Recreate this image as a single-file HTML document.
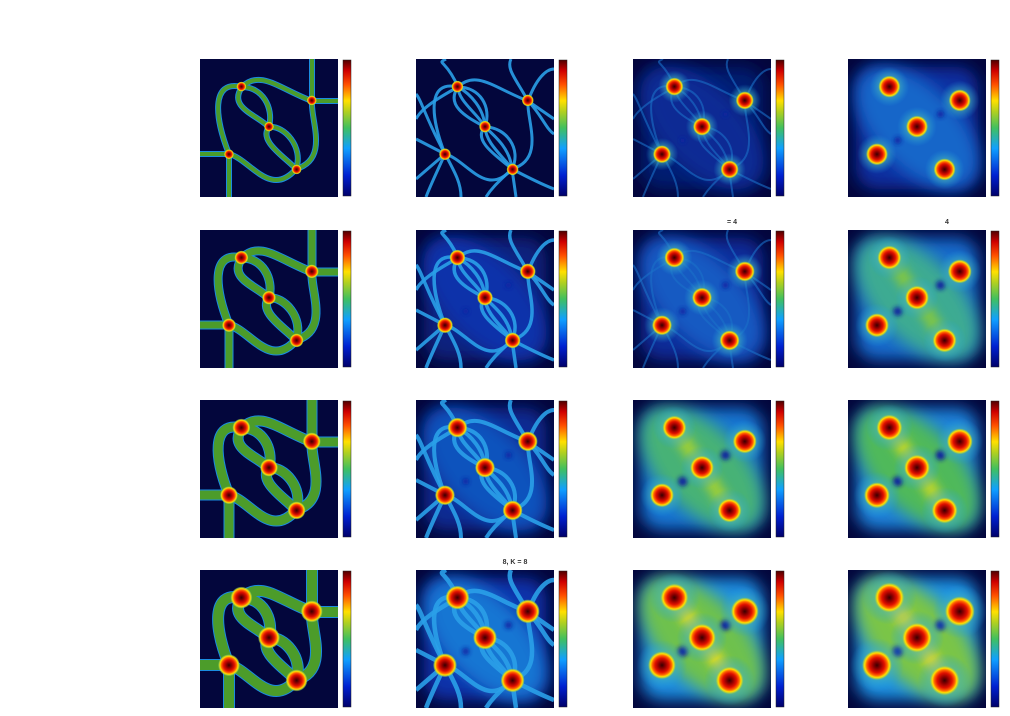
<!DOCTYPE html>
<html><head><meta charset="utf-8">
<style>
html,body{margin:0;padding:0;background:#fff;}
svg{display:block;font-family:"Liberation Sans",sans-serif;}
</style></head>
<body>
<svg id="fig" width="1010" height="716" viewBox="0 0 1010 716" xmlns="http://www.w3.org/2000/svg">
<defs>
  <linearGradient id="jet" x1="0" y1="1" x2="0" y2="0">
    <stop offset="0" stop-color="#00006a"/>
    <stop offset="0.15" stop-color="#0020d0"/>
    <stop offset="0.35" stop-color="#10a0ff"/>
    <stop offset="0.5" stop-color="#40c060"/>
    <stop offset="0.62" stop-color="#b0d020"/>
    <stop offset="0.7" stop-color="#ffe000"/>
    <stop offset="0.82" stop-color="#ff5000"/>
    <stop offset="0.92" stop-color="#d00000"/>
    <stop offset="1" stop-color="#500000"/>
  </linearGradient>
  <radialGradient id="blob">
    <stop offset="0" stop-color="#3a0000"/>
    <stop offset="0.25" stop-color="#900000"/>
    <stop offset="0.5" stop-color="#e01000"/>
    <stop offset="0.68" stop-color="#ff6000"/>
    <stop offset="0.82" stop-color="#ffe000"/>
    <stop offset="0.92" stop-color="#b0d040" stop-opacity="0.7"/>
    <stop offset="1" stop-color="#60c080" stop-opacity="0"/>
  </radialGradient>
  <radialGradient id="halo">
    <stop offset="0" stop-color="#b0d030" stop-opacity="0.9"/>
    <stop offset="0.6" stop-color="#40b0c0" stop-opacity="0.5"/>
    <stop offset="1" stop-color="#20a0e0" stop-opacity="0"/>
  </radialGradient>
  <filter id="blur8" x="-50%" y="-50%" width="200%" height="200%"><feGaussianBlur stdDeviation="8"/></filter>
  <filter id="blur5" x="-50%" y="-50%" width="200%" height="200%"><feGaussianBlur stdDeviation="5"/></filter>
  <filter id="blur3" x="-50%" y="-50%" width="200%" height="200%"><feGaussianBlur stdDeviation="2.5"/></filter>
</defs>
<g id="panels"></g>
</svg>
<script>
// --- data ---
const colX = [200, 416, 633, 848];
const rowY = [59, 230, 400, 570];
const pointsX = [0.30, 0.81, 0.50, 0.21, 0.70];
const pointsY = [0.20, 0.30, 0.49, 0.69, 0.80];
// blob radius (px) per row (outer) and column (inner)
const blobRadius = [[5,6,9,11],[7,8,10,12],[9,10,12,13],[11,12,14,15]];
// background glow level per row, column (0 = navy, 1 = yellow-green)
const bgLevel = [[0,0,0.2,0.38],[0,0.25,0.35,0.65],[0,0.33,0.7,0.75],[0,0.42,0.8,0.82]];
// column-1 line width per row
const lineWidth = [4,7,9,10];
const holesX = [0.36, 0.67];
const holesY = [0.59, 0.40];
const titles = [["","","",""],["","","= 4","4"],["","","",""],["","8, K = 8","",""]];

const S = 138;
const NS = "http://www.w3.org/2000/svg";
const root = document.getElementById('panels');
function mk(tag, attrs, parent){const e=document.createElementNS(NS,tag);for(const k in attrs)e.setAttribute(k,attrs[k]);(parent||root).appendChild(e);return e;}
function levelColor(l){
  const stops=[[0,[3,6,60]],[0.25,[10,50,170]],[0.5,[30,150,230]],[0.75,[80,185,90]],[0.9,[170,210,50]],[1,[230,220,40]]];
  for(let i=1;i<stops.length;i++){if(l<=stops[i][0]){const a=stops[i-1],b=stops[i],t=(l-a[0])/(b[0]-a[0]);return 'rgb('+a[1].map((v,j)=>Math.round(v+(b[1][j]-v)*t)).join(',')+')';}}
  return 'rgb(230,220,40)';
}
const col1Paths = [
 "M42,28 C10,20 15,60 29,95","M29,95 C50,100 70,140 96,110","M96,110 C130,100 110,60 112,42","M112,42 C80,30 60,10 42,28",
 "M42,28 C28,48 55,55 69,68","M42,28 C62,28 74,48 69,68","M69,68 C58,82 85,98 96,110","M69,68 C84,66 104,88 96,110",
 "M0,95 L29,95","M29,95 L29,138","M112,0 L112,42","M112,42 L138,42"];
const col2Paths = [
 "M42,28 C10,20 15,60 29,95","M29,95 C50,100 70,140 96,110","M96,110 C130,100 110,60 112,42","M112,42 C80,30 60,10 42,28",
 "M42,28 C28,48 55,60 69,68","M42,28 C42,42 62,55 69,68","M42,28 C55,35 68,50 69,68","M42,28 C64,28 76,48 69,68",
 "M69,68 C55,82 85,100 96,110","M69,68 C70,85 88,98 96,110","M69,68 C80,78 94,90 96,110","M69,68 C90,68 106,90 96,110",
 "M42,28 C30,0 20,5 30,0","M112,42 C120,20 130,10 138,10","M112,42 L138,60","M112,42 C100,20 90,10 95,0",
 "M29,95 L0,120","M29,95 L0,80","M29,95 C20,115 15,125 10,138","M29,95 C40,115 45,125 45,138",
 "M96,110 L100,138","M96,110 C115,120 125,125 138,130","M96,110 C80,125 75,130 70,138","M112,42 C125,55 130,70 138,75",
 "M42,28 C20,40 5,50 0,60","M29,95 C10,60 5,40 0,35"];

for(let r=0;r<4;r++){
 for(let c=0;c<4;c++){
  const x0=colX[c], y0=rowY[r];
  const g=mk('g',{transform:'translate('+x0+','+y0+')'});
  
  
  const cid='clip'+r+c;
  const cp=mk('clipPath',{id:cid},g); mk('rect',{x:0,y:0,width:S,height:S},cp);
  const inner=mk('g',{'clip-path':'url(#'+cid+')'},g);
  mk('rect',{x:0,y:0,width:S,height:S,fill:'#03063c'},inner);
  const lv=bgLevel[r][c];
  if(lv>0){
    mk('rect',{x:8,y:8,width:S-16,height:S-16,rx:20,fill:levelColor(lv*0.6),filter:'url(#blur8)'},inner);
    mk('ellipse',{cx:S*0.5,cy:S*0.5,rx:S*0.55,ry:S*0.3,transform:'rotate(45 '+S*0.5+' '+S*0.5+')',fill:levelColor(lv),filter:'url(#blur8)'},inner);
    if(lv>=0.6){
      const ch='M'+pointsX[0]*S+','+pointsY[0]*S+' L'+pointsX[2]*S+','+pointsY[2]*S+' L'+pointsX[4]*S+','+pointsY[4]*S;
      mk('path',{d:ch,fill:'none',stroke:levelColor(Math.min(1,lv+0.18)),'stroke-width':14,'stroke-linecap':'round',filter:'url(#blur5)'},inner);
    }
    for(let h=0;h<holesX.length;h++){
      const hole=mk('circle',{cx:holesX[h]*S,cy:holesY[h]*S,r:2+lv*4,fill:'#0820a0',filter:'url(#blur3)'},inner);
      
      
    }
  }
  if(c===0){
    const w=lineWidth[r];
    col1Paths.forEach(d=>mk('path',{d:d,fill:'none',stroke:'#1a8ce0',"stroke-width":w+2},inner));
    col1Paths.forEach(d=>mk('path',{d:d,fill:'none',stroke:'#4c9c2a',"stroke-width":w},inner));
  }
  if(c===1){
    col2Paths.forEach(d=>mk('path',{d:d,fill:'none',stroke:'#2aa0e8',"stroke-width":3+r*0.5,opacity:0.9},inner));
  }
  if(c===2 && r<2){
    col2Paths.forEach(d=>mk('path',{d:d,fill:'none',stroke:'#1a70c8',"stroke-width":2,opacity:0.6},inner));
  }
  if(c>=2){
    for(let p=0;p<pointsX.length;p++){
      mk('circle',{cx:pointsX[p]*S,cy:pointsY[p]*S,r:blobRadius[r][c]*1.8,fill:'url(#halo)'},inner);
    }
  }
  for(let p=0;p<pointsX.length;p++){
    const b=mk('circle',{cx:pointsX[p]*S,cy:pointsY[p]*S,r:blobRadius[r][c],fill:'url(#blob)'},inner);
    
    
  }
  const cb=mk('rect',{x:x0+S+5,y:y0+1,width:8,height:S-2,fill:'url(#jet)',stroke:'#222','stroke-width':0.5});
  
  
  if(titles[r][c]){
    const t=mk('text',{x:x0+S/2+30,y:y0-6,'font-size':7,'font-weight':'bold','text-anchor':'middle',fill:'#333'});
    t.textContent=titles[r][c];
    
    
  }
 }
}
</script>
</body></html>
